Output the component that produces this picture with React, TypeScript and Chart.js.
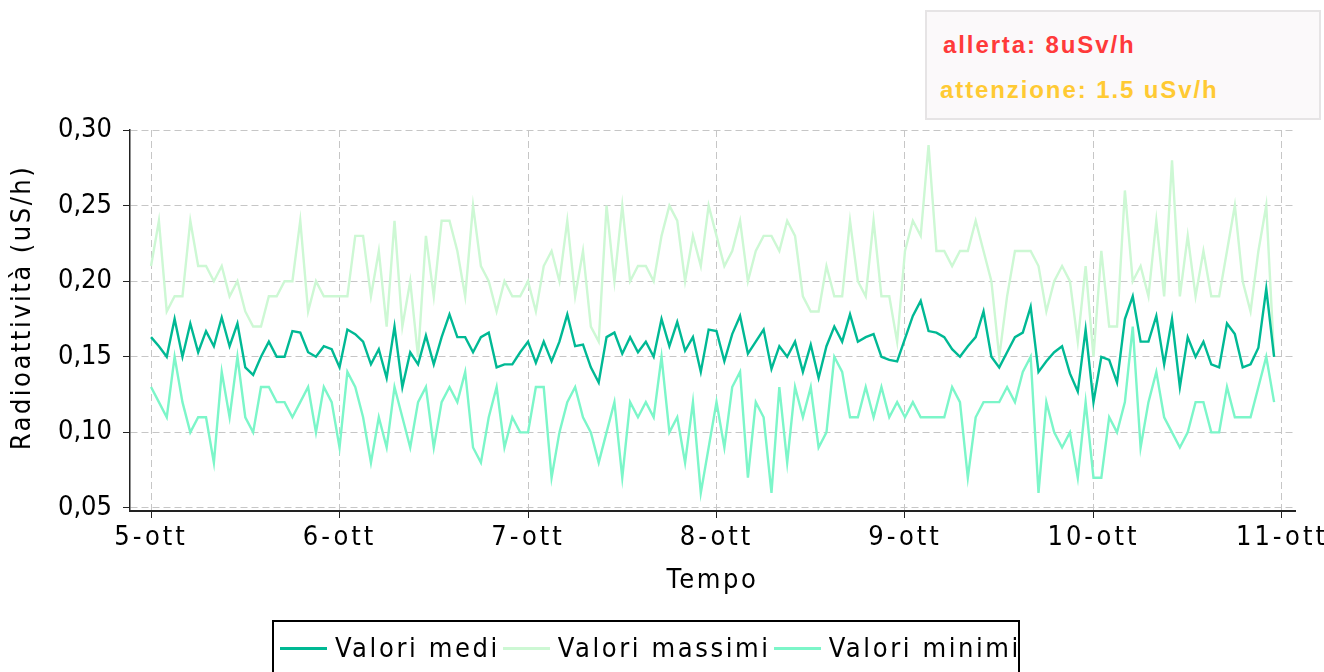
import React, { useEffect, useRef } from 'react';
import { Chart, registerables } from 'chart.js';

Chart.register(...registerables);

// ---------- data ----------
const dayLabels = ['5-ott', '6-ott', '7-ott', '8-ott', '9-ott', '10-ott', '11-ott'];
const hoursPerDay = 24;
const yTickValues = [0.05, 0.1, 0.15, 0.2, 0.25, 0.3];

const meanValues = [
  0.163, 0.157, 0.150, 0.175, 0.150, 0.172, 0.153, 0.167, 0.157, 0.176, 0.157, 0.172, 0.143, 0.138, 0.150, 0.160, 0.150, 0.150, 0.167, 0.166, 0.153, 0.150, 0.157, 0.155,
  0.143, 0.168, 0.165, 0.160, 0.145, 0.155, 0.136, 0.170, 0.130, 0.153, 0.145, 0.164, 0.145, 0.163, 0.178, 0.163, 0.163, 0.153, 0.163, 0.166, 0.143, 0.145, 0.145, 0.153,
  0.160, 0.146, 0.160, 0.147, 0.160, 0.178, 0.157, 0.158, 0.143, 0.133, 0.163, 0.166, 0.152, 0.163, 0.153, 0.160, 0.150, 0.175, 0.157, 0.173, 0.154, 0.163, 0.140, 0.168,
  0.167, 0.147, 0.165, 0.177, 0.152, 0.160, 0.168, 0.142, 0.157, 0.150, 0.160, 0.140, 0.158, 0.136, 0.157, 0.170, 0.160, 0.178, 0.160, 0.163, 0.165, 0.150, 0.148, 0.147,
  0.162, 0.177, 0.187, 0.167, 0.166, 0.163, 0.155, 0.150, 0.157, 0.163, 0.180, 0.150, 0.143, 0.153, 0.163, 0.166, 0.183, 0.140, 0.147, 0.153, 0.157, 0.139, 0.127, 0.168,
  0.120, 0.150, 0.148, 0.133, 0.175, 0.190, 0.160, 0.160, 0.177, 0.145, 0.175, 0.130, 0.163, 0.150, 0.160, 0.145, 0.143, 0.172, 0.165, 0.143, 0.145, 0.156, 0.195, 0.150,
];

const maxValues = [
  0.21, 0.24, 0.18, 0.19, 0.19, 0.24, 0.21, 0.21, 0.20, 0.21, 0.19, 0.20, 0.18, 0.17, 0.17, 0.19, 0.19, 0.20, 0.20, 0.24, 0.18, 0.20, 0.19, 0.19,
  0.19, 0.19, 0.23, 0.23, 0.19, 0.22, 0.17, 0.24, 0.17, 0.20, 0.15, 0.23, 0.19, 0.24, 0.24, 0.22, 0.19, 0.25, 0.21, 0.20, 0.18, 0.20, 0.19, 0.19,
  0.20, 0.18, 0.21, 0.22, 0.20, 0.24, 0.19, 0.22, 0.17, 0.16, 0.25, 0.20, 0.25, 0.20, 0.21, 0.21, 0.20, 0.23, 0.25, 0.24, 0.20, 0.23, 0.21, 0.25,
  0.23, 0.21, 0.22, 0.24, 0.20, 0.22, 0.23, 0.23, 0.22, 0.24, 0.23, 0.19, 0.18, 0.18, 0.21, 0.19, 0.19, 0.24, 0.20, 0.19, 0.24, 0.19, 0.19, 0.16,
  0.22, 0.24, 0.23, 0.29, 0.22, 0.22, 0.21, 0.22, 0.22, 0.24, 0.22, 0.20, 0.15, 0.19, 0.22, 0.22, 0.22, 0.21, 0.18, 0.20, 0.21, 0.20, 0.16, 0.21,
  0.15, 0.22, 0.17, 0.17, 0.26, 0.20, 0.21, 0.19, 0.24, 0.19, 0.28, 0.19, 0.23, 0.19, 0.22, 0.19, 0.19, 0.22, 0.25, 0.20, 0.18, 0.22, 0.25, 0.15,
];

const minValues = [
  0.13, 0.12, 0.11, 0.15, 0.12, 0.10, 0.11, 0.11, 0.08, 0.14, 0.11, 0.15, 0.11, 0.10, 0.13, 0.13, 0.12, 0.12, 0.11, 0.12, 0.13, 0.10, 0.13, 0.12,
  0.09, 0.14, 0.13, 0.11, 0.08, 0.11, 0.09, 0.13, 0.11, 0.09, 0.12, 0.13, 0.09, 0.12, 0.13, 0.12, 0.14, 0.09, 0.08, 0.11, 0.13, 0.09, 0.11, 0.10,
  0.10, 0.13, 0.13, 0.07, 0.10, 0.12, 0.13, 0.11, 0.10, 0.08, 0.10, 0.12, 0.07, 0.12, 0.11, 0.12, 0.11, 0.15, 0.10, 0.11, 0.08, 0.12, 0.06, 0.09,
  0.12, 0.09, 0.13, 0.14, 0.07, 0.12, 0.11, 0.06, 0.13, 0.08, 0.13, 0.11, 0.13, 0.09, 0.10, 0.15, 0.14, 0.11, 0.11, 0.13, 0.11, 0.13, 0.11, 0.12,
  0.11, 0.12, 0.11, 0.11, 0.11, 0.11, 0.13, 0.12, 0.07, 0.11, 0.12, 0.12, 0.12, 0.13, 0.12, 0.14, 0.15, 0.06, 0.12, 0.10, 0.09, 0.10, 0.07, 0.12,
  0.07, 0.07, 0.11, 0.10, 0.12, 0.17, 0.09, 0.12, 0.14, 0.11, 0.10, 0.09, 0.10, 0.12, 0.12, 0.10, 0.10, 0.13, 0.11, 0.11, 0.11, 0.13, 0.15, 0.12,
];

const seriesLabels = ['Valori medi', 'Valori massimi', 'Valori minimi'];
const seriesColors = ['#00b994', '#cdf8d4', '#7cf6c9'];
const seriesValues = [meanValues, maxValues, minValues];

const xTitle = 'Tempo';
const yTitle = 'Radioattività (uS/h)';
const alertLines = ['allerta: 8uSv/h', 'attenzione: 1.5 uSv/h'];
const alertColors = ['#ff3a3a', '#ffca33'];

// ---------- style ----------
const FONT = "'DejaVu Sans Condensed', 'DejaVu Sans', sans-serif";
const GRID = '#c6c6c6';
const AXIS = '#222222';

function patchScale(scale: any, labelSpacing: string, titleSpacing: string, titleDy: number) {
  if (scale.__patched) return;
  scale.__patched = true;
  const dl = scale.drawLabels.bind(scale);
  scale.drawLabels = (ca: any) => {
    const c = scale.ctx;
    c.save();
    c.letterSpacing = labelSpacing;
    dl(ca);
    c.restore();
  };
  const dt = scale.drawTitle.bind(scale);
  scale.drawTitle = () => {
    const c = scale.ctx;
    c.save();
    c.letterSpacing = titleSpacing;
    c.translate(0, titleDy);
    dt();
    c.restore();
  };
}

export default function App() {
  const canvasRef = useRef<HTMLCanvasElement | null>(null);

  useEffect(() => {
    const canvas = canvasRef.current;
    if (!canvas) return;
    const chart = new Chart(canvas, {
      type: 'line',
      data: {
        datasets: seriesValues.map((vals, k) => ({
          label: seriesLabels[k],
          data: vals.map((v, i) => ({ x: i, y: v })),
          borderColor: seriesColors[k],
          backgroundColor: seriesColors[k],
          borderWidth: 2.4,
          pointRadius: 0,
          tension: 0,
          fill: false,
        })),
      },
      options: {
        animation: false,
        responsive: false,
        devicePixelRatio: 1,
        layout: { padding: { top: 130, right: 29, bottom: 77, left: 0 } },
        plugins: { legend: { display: false }, tooltip: { enabled: false } },
        scales: {
          x: {
            type: 'linear',
            min: -2.68,
            max: 145.66,
            beforeUpdate: (s: any) => patchScale(s, '3px', '2.6px', 2),
            afterBuildTicks: (s: any) => {
              s.ticks = dayLabels.map((_, i) => ({ value: i * hoursPerDay }));
            },
            afterFit: (s: any) => {
              s.height = 84;
              s.paddingLeft = 0;
              s.paddingRight = 0;
            },
            ticks: {
              autoSkip: false,
              maxRotation: 0,
              padding: 4,
              color: '#000',
              font: { family: FONT, size: 27 },
              callback: (v: any) => dayLabels[Math.round(Number(v) / hoursPerDay)] ?? '',
            },
            grid: { color: GRID, lineWidth: 1, tickColor: AXIS, tickLength: 7, tickWidth: 1 },
            border: { display: true, color: AXIS, width: 2, dash: [7, 4] },
            title: { display: true, text: xTitle, color: '#000', font: { family: FONT, size: 27 }, padding: { top: 0, bottom: 0 } },
          },
          y: {
            type: 'linear',
            min: 0.048,
            max: 0.3,
            beforeUpdate: (s: any) => patchScale(s, '0px', '2.5px', -13),
            afterBuildTicks: (s: any) => {
              s.ticks = yTickValues.map((v) => ({ value: v }));
            },
            afterFit: (s: any) => {
              s.width = 130;
            },
            ticks: {
              padding: 11,
              color: '#000',
              font: { family: FONT, size: 27 },
              callback: (v: any) => Number(v).toFixed(2).replace('.', ','),
            },
            grid: { color: GRID, lineWidth: 1, tickColor: AXIS, tickLength: 7, tickWidth: 1 },
            border: { display: true, color: AXIS, width: 1.5, dash: [7, 4] },
            title: { display: true, text: yTitle, color: '#000', font: { family: FONT, size: 27 }, padding: { top: 7, bottom: 0 } },
          },
        },
      },
    } as any);
    return () => chart.destroy();
  }, []);

  return (
    <div style={{ position: 'fixed', left: 0, top: 0, width: 1324, height: 672, overflow: 'hidden', background: '#fff' }}>
      <canvas ref={canvasRef} width={1324} height={672} style={{ position: 'absolute', left: 0, top: 0, display: 'block' }} />
      <div
        style={{
          position: 'absolute', left: 925, top: 10, width: 396, height: 110, boxSizing: 'border-box',
          border: '2px solid #e6e4e5', background: '#fbf9fa',
        }}
      >
        {alertLines.map((t, i) => (
          <div
            key={t}
            style={{
              position: 'absolute', left: i === 0 ? 16 : 13, top: i === 0 ? 21 : 66, whiteSpace: 'nowrap',
              fontFamily: "'Liberation Sans', Arial, sans-serif", fontWeight: 'bold', fontSize: 24, lineHeight: '24px',
              letterSpacing: '1.9px', color: alertColors[i],
            }}
          >
            {t}
          </div>
        ))}
      </div>
      <div
        style={{
          position: 'absolute', left: 272, top: 620, width: 748, height: 80, boxSizing: 'border-box',
          border: '2px solid #000', background: '#fff',
        }}
      >
        <div style={{ display: 'flex', alignItems: 'center', height: 52, paddingLeft: 6, whiteSpace: 'nowrap' }}>
          {seriesLabels.map((lab, k) => (
            <div key={lab} style={{ display: 'flex', alignItems: 'center', marginRight: 3 }}>
              <div style={{ width: 47, height: 3, background: seriesColors[k], marginRight: 8 }} />
              <span style={{ fontFamily: FONT, fontSize: 27, letterSpacing: '2.6px', color: '#000', lineHeight: '32px' }}>{lab}</span>
            </div>
          ))}
        </div>
      </div>
    </div>
  );
}
